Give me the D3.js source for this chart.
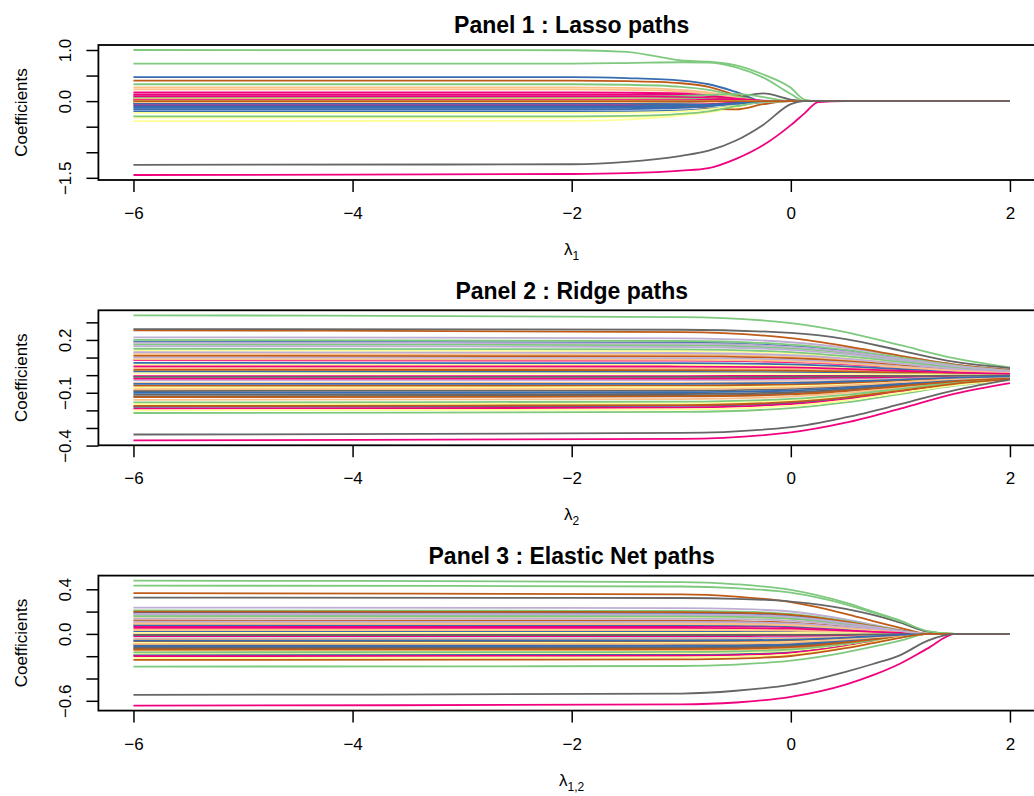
<!DOCTYPE html>
<html>
<head>
<meta charset="utf-8">
<script src="https://cdn.jsdelivr.net/npm/d3@7"></script>
<style>
  body { margin: 0; background: #fff; }
  text { font-family: "Liberation Sans", Arial, Helvetica, sans-serif; fill: #000; }
</style>
</head>
<body>
<svg id="chart" width="1034" height="796"></svg>
<script>
// Accent palette, recycled over the coefficient columns (like matplot does)
const pathColors = ["#7FC97F", "#BEAED4", "#FDC086", "#FFFF99", "#386CB0", "#F0027F", "#BF5B17", "#666666"];

const xTicks = [-6, -4, -2, 0, 2];
const xTickLabels = ["\u22126", "\u22124", "\u22122", "0", "2"];

// ---- Panel 1 : lasso, coefficient per log(lambda) knot
const lassoLambda = [-6, -2, -1.5, -1, -0.75, -0.5, -0.25, 0, 0.125, 0.25, 0.5, 2];
const lassoPaths = [
    [1.0, 0.995, 0.965, 0.795, 0.77, 0.70, 0.52, 0.26, 0.03, 0, 0, 0],
    [0.05, 0.05, 0.045, 0.03, 0.01, 0, 0, 0, 0, 0, 0, 0],
    [0.23, 0.23, 0.22, 0.19, 0.15, 0.08, 0, 0, 0, 0, 0, 0],
    [-0.39, -0.385, -0.36, -0.28, -0.2, -0.04, 0, 0, 0, 0, 0, 0],
    [0.47, 0.47, 0.45, 0.40, 0.33, 0.18, 0, 0, 0, 0, 0, 0],
    [0.17, 0.17, 0.165, 0.15, 0.11, 0.04, 0, 0, 0, 0, 0, 0],
    [0.40, 0.40, 0.39, 0.35, 0.28, 0.12, 0, 0, 0, 0, 0, 0],
    [0, 0, 0, 0, 0.02, 0.07, 0.15, 0.03, 0, 0, 0, 0],
    [0.735, 0.735, 0.745, 0.76, 0.755, 0.66, 0.46, 0.14, 0, 0, 0, 0],
    [0.02, 0.02, 0.02, 0.01, 0, 0, 0, 0, 0, 0, 0, 0],
    [-0.06, -0.06, -0.055, -0.04, -0.02, 0, 0, 0, 0, 0, 0, 0],
    [-0.32, -0.32, -0.31, -0.27, -0.22, -0.12, -0.02, 0, 0, 0, 0, 0],
    [-0.13, -0.13, -0.125, -0.11, -0.08, -0.03, 0, 0, 0, 0, 0, 0],
    [-0.08, -0.08, -0.08, -0.07, -0.06, -0.03, 0, 0, 0, 0, 0, 0],
    [-0.03, -0.03, -0.04, -0.09, -0.14, -0.16, -0.06, 0, 0, 0, 0, 0],
    [0, 0, 0, 0, 0, 0, 0, 0, 0, 0, 0, 0],
    [0.33, 0.33, 0.32, 0.28, 0.22, 0.1, 0, 0, 0, 0, 0, 0],
    [0.12, 0.12, 0.115, 0.09, 0.05, 0, 0, 0, 0, 0, 0, 0],
    [0.27, 0.27, 0.26, 0.22, 0.17, 0.07, 0, 0, 0, 0, 0, 0],
    [0.03, 0.03, 0.025, 0.01, 0, 0, 0, 0, 0, 0, 0, 0],
    [-0.2, -0.2, -0.2, -0.18, -0.15, -0.09, -0.02, 0, 0, 0, 0, 0],
    [0.13, 0.13, 0.13, 0.12, 0.1, 0.05, 0, 0, 0, 0, 0, 0],
    [0.02, 0.02, 0.03, 0.05, 0.06, 0.03, 0, 0, 0, 0, 0, 0],
    [-0.03, -0.03, -0.03, -0.02, 0, 0, 0, 0, 0, 0, 0, 0],
    [0.08, 0.08, 0.085, 0.1, 0.12, 0.14, 0.08, 0, 0, 0, 0, 0],
    [0, 0, 0, 0, 0, 0, 0, 0, 0, 0, 0, 0],
    [0.06, 0.06, 0.06, 0.05, 0.03, 0, 0, 0, 0, 0, 0, 0],
    [0, 0, 0, 0, 0, 0, 0, 0, 0, 0, 0, 0],
    [-0.1, -0.1, -0.1, -0.09, -0.07, -0.04, 0, 0, 0, 0, 0, 0],
    [0.09, 0.09, 0.09, 0.08, 0.06, 0.02, 0, 0, 0, 0, 0, 0],
    [0.03, 0.03, 0.03, 0.02, 0, 0, 0, 0, 0, 0, 0, 0],
    [-0.02, -0.02, -0.02, -0.01, 0, 0, 0, 0, 0, 0, 0, 0],
    [0.06, 0.06, 0.06, 0.05, 0.04, 0.02, 0, 0, 0, 0, 0, 0],
    [0, 0, 0, 0, 0, 0, 0, 0, 0, 0, 0, 0],
    [0.04, 0.04, 0.04, 0.03, 0.01, 0, 0, 0, 0, 0, 0, 0],
    [-0.23, -0.23, -0.225, -0.2, -0.16, -0.09, -0.01, 0, 0, 0, 0, 0],
    [-0.05, -0.05, -0.05, -0.06, -0.07, -0.05, 0, 0, 0, 0, 0, 0],
    [0.02, 0.02, 0.02, 0.02, 0.03, 0.04, 0.01, 0, 0, 0, 0, 0],
    [0, 0, 0, 0, 0, 0, 0, 0, 0, 0, 0, 0],
    [0, 0, 0, 0, 0, 0, 0, 0, 0, 0, 0, 0],
    [-0.30, -0.30, -0.29, -0.25, -0.2, -0.1, -0.01, 0, 0, 0, 0, 0],
    [0, 0, 0, 0, 0, 0, 0, 0, 0, 0, 0, 0],
    [-0.02, -0.02, -0.02, -0.01, 0, 0, 0, 0, 0, 0, 0, 0],
    [0, 0, 0, 0, 0, 0, 0, 0, 0, 0, 0, 0],
    [-0.16, -0.16, -0.155, -0.13, -0.1, -0.05, 0, 0, 0, 0, 0, 0],
    [-1.445, -1.425, -1.41, -1.36, -1.31, -1.13, -0.86, -0.47, -0.24, -0.02, 0, 0],
    [0, 0, 0, 0, 0, 0, 0, 0, 0, 0, 0, 0],
    [-1.245, -1.235, -1.19, -1.07, -0.97, -0.77, -0.46, -0.06, 0, 0, 0, 0]
];
const lassoYTicks = [-1.5, -1.0, -0.5, 0, 0.5, 1.0];
const lassoYLabels = ["\u22121.5", "", "", "0.0", "", "1.0"];

// ---- Panel 2 : ridge
const ridgeLambda = [-6, -1, 0, 0.5, 1, 1.5, 2];
const ridgePaths = [
    [0.34, 0.33, 0.296, 0.245, 0.17, 0.095, 0.044],
    [0.215, 0.209, 0.187, 0.155, 0.108, 0.06, 0.028],
    [0.12, 0.116, 0.104, 0.086, 0.06, 0.034, 0.016],
    [0.06, 0.058, 0.052, 0.043, 0.03, 0.017, 0.008],
    [0.19, 0.184, 0.165, 0.137, 0.095, 0.053, 0.025],
    [0.085, 0.082, 0.074, 0.061, 0.043, 0.024, 0.011],
    [0.255, 0.245, 0.21, 0.165, 0.11, 0.06, 0.03],
    [0.262, 0.258, 0.24, 0.205, 0.14, 0.075, 0.04],
    [0.175, 0.17, 0.152, 0.126, 0.088, 0.049, 0.023],
    [-0.03, -0.029, -0.026, -0.022, -0.015, -0.008, -0.004],
    [-0.14, -0.136, -0.122, -0.101, -0.07, -0.039, -0.018],
    [0.14, 0.136, 0.122, 0.101, 0.07, 0.039, 0.018],
    [0.02, 0.019, 0.017, 0.014, 0.01, 0.006, 0.003],
    [-0.005, -0.005, -0.004, -0.004, -0.003, -0.001, -0.001],
    [0.11, 0.107, 0.096, 0.079, 0.055, 0.031, 0.014],
    [-0.11, -0.107, -0.096, -0.079, -0.055, -0.031, -0.014],
    [0.2, 0.194, 0.174, 0.144, 0.1, 0.056, 0.026],
    [0.165, 0.16, 0.144, 0.119, 0.083, 0.046, 0.021],
    [0.04, 0.039, 0.035, 0.029, 0.02, 0.011, 0.005],
    [-0.07, -0.068, -0.061, -0.05, -0.035, -0.02, -0.009],
    [-0.18, -0.175, -0.157, -0.13, -0.09, -0.05, -0.023],
    [-0.02, -0.019, -0.017, -0.014, -0.01, -0.006, -0.003],
    [-0.06, -0.058, -0.052, -0.043, -0.03, -0.017, -0.008],
    [-0.09, -0.087, -0.078, -0.065, -0.045, -0.025, -0.012],
    [0.15, 0.146, 0.131, 0.108, 0.075, 0.042, 0.02],
    [0.1, 0.097, 0.087, 0.072, 0.05, 0.028, 0.013],
    [-0.045, -0.044, -0.039, -0.032, -0.023, -0.013, -0.006],
    [-0.165, -0.16, -0.144, -0.119, -0.083, -0.046, -0.021],
    [0.07, 0.068, 0.061, 0.05, 0.035, 0.02, 0.009],
    [-0.19, -0.184, -0.165, -0.137, -0.095, -0.053, -0.025],
    [0.03, 0.029, 0.026, 0.022, 0.015, 0.008, 0.004],
    [-0.12, -0.116, -0.104, -0.086, -0.06, -0.034, -0.016],
    [-0.155, -0.15, -0.135, -0.112, -0.078, -0.043, -0.02],
    [0.13, 0.126, 0.113, 0.094, 0.065, 0.036, 0.017],
    [0.09, 0.087, 0.078, 0.065, 0.045, 0.025, 0.012],
    [0.01, 0.01, 0.009, 0.007, 0.005, 0.003, 0.001],
    [-0.1, -0.097, -0.087, -0.072, -0.05, -0.028, -0.013],
    [0.05, 0.049, 0.044, 0.036, 0.025, 0.014, 0.007],
    [-0.125, -0.121, -0.109, -0.09, -0.063, -0.035, -0.016],
    [-0.01, -0.01, -0.009, -0.007, -0.005, -0.003, -0.001],
    [-0.215, -0.209, -0.187, -0.155, -0.108, -0.06, -0.028],
    [0.185, 0.179, 0.161, 0.133, 0.093, 0.052, 0.024],
    [-0.08, -0.078, -0.07, -0.058, -0.04, -0.022, -0.01],
    [-0.2, -0.194, -0.174, -0.144, -0.1, -0.056, -0.026],
    [-0.05, -0.049, -0.044, -0.036, -0.025, -0.014, -0.007],
    [-0.37, -0.362, -0.325, -0.27, -0.19, -0.105, -0.045],
    [-0.175, -0.17, -0.152, -0.126, -0.088, -0.049, -0.023],
    [-0.337, -0.328, -0.295, -0.24, -0.165, -0.085, -0.025]
];
const ridgeYTicks = [-0.4, -0.3, -0.2, -0.1, 0, 0.1, 0.2, 0.3];
const ridgeYLabels = ["\u22120.4", "", "", "\u22120.1", "", "", "0.2", ""];

// ---- Panel 3 : elastic net
const enetLambda = [-6, -1, -0.5, 0, 0.5, 0.75, 1, 1.25, 1.5, 2];
const enetPaths = [
    [0.478, 0.465, 0.445, 0.395, 0.28, 0.2, 0.12, 0.02, 0, 0],
    [0.236, 0.231, 0.224, 0.201, 0.13, 0.083, 0.035, 0, 0, 0],
    [0.1, 0.098, 0.095, 0.085, 0.055, 0.035, 0.015, 0, 0, 0],
    [0.05, 0.049, 0.048, 0.043, 0.028, 0.018, 0.008, 0, 0, 0],
    [0.19, 0.186, 0.181, 0.162, 0.105, 0.067, 0.029, 0, 0, 0],
    [0.07, 0.069, 0.067, 0.06, 0.039, 0.025, 0.011, 0, 0, 0],
    [0.365, 0.355, 0.335, 0.285, 0.18, 0.115, 0.055, 0, 0, 0],
    [0.326, 0.322, 0.315, 0.29, 0.225, 0.17, 0.1, 0.02, 0, 0],
    [0.433, 0.425, 0.41, 0.37, 0.265, 0.19, 0.115, 0.025, 0, 0],
    [-0.04, -0.039, -0.038, -0.034, -0.022, -0.014, -0.006, 0, 0, 0],
    [-0.15, -0.147, -0.143, -0.128, -0.083, -0.053, -0.023, 0, 0, 0],
    [0.15, 0.147, 0.143, 0.128, 0.083, 0.053, 0.023, 0, 0, 0],
    [0.02, 0.02, 0.019, 0.017, 0.011, 0.007, 0.003, 0, 0, 0],
    [-0.005, -0.005, -0.005, -0.004, -0.003, -0.002, -0.001, 0, 0, 0],
    [0.12, 0.118, 0.114, 0.102, 0.066, 0.042, 0.018, 0, 0, 0],
    [-0.12, -0.118, -0.114, -0.102, -0.066, -0.042, -0.018, 0, 0, 0],
    [0.21, 0.206, 0.2, 0.179, 0.116, 0.074, 0.032, 0, 0, 0],
    [0.17, 0.167, 0.162, 0.145, 0.094, 0.06, 0.026, 0, 0, 0],
    [0.035, 0.034, 0.033, 0.03, 0.019, 0.012, 0.005, 0, 0, 0],
    [-0.08, -0.078, -0.076, -0.068, -0.044, -0.028, -0.012, 0, 0, 0],
    [-0.19, -0.186, -0.181, -0.162, -0.105, -0.067, -0.029, 0, 0, 0],
    [-0.02, -0.02, -0.019, -0.017, -0.011, -0.007, -0.003, 0, 0, 0],
    [-0.065, -0.064, -0.062, -0.055, -0.036, -0.023, -0.01, 0, 0, 0],
    [-0.1, -0.098, -0.095, -0.085, -0.055, -0.035, -0.015, 0, 0, 0],
    [0.16, 0.157, 0.152, 0.136, 0.088, 0.056, 0.024, 0, 0, 0],
    [0.11, 0.108, 0.105, 0.094, 0.061, 0.039, 0.017, 0, 0, 0],
    [-0.05, -0.049, -0.048, -0.043, -0.028, -0.018, -0.008, 0, 0, 0],
    [-0.175, -0.172, -0.166, -0.149, -0.096, -0.061, -0.026, 0, 0, 0],
    [0.08, 0.078, 0.076, 0.068, 0.044, 0.028, 0.012, 0, 0, 0],
    [-0.2, -0.196, -0.19, -0.17, -0.11, -0.07, -0.03, 0, 0, 0],
    [0.2, 0.196, 0.19, 0.17, 0.11, 0.07, 0.03, 0, 0, 0],
    [-0.13, -0.127, -0.124, -0.111, -0.072, -0.046, -0.02, 0, 0, 0],
    [-0.165, -0.162, -0.157, -0.14, -0.091, -0.058, -0.025, 0, 0, 0],
    [0.14, 0.137, 0.133, 0.119, 0.077, 0.049, 0.021, 0, 0, 0],
    [0.09, 0.088, 0.086, 0.077, 0.05, 0.032, 0.014, 0, 0, 0],
    [0.01, 0.01, 0.01, 0.009, 0.006, 0.004, 0.002, 0, 0, 0],
    [-0.11, -0.108, -0.105, -0.094, -0.061, -0.039, -0.017, 0, 0, 0],
    [0.055, 0.054, 0.052, 0.047, 0.03, 0.019, 0.008, 0, 0, 0],
    [-0.14, -0.137, -0.133, -0.119, -0.077, -0.049, -0.021, 0, 0, 0],
    [-0.01, -0.01, -0.01, -0.009, -0.006, -0.004, -0.002, 0, 0, 0],
    [-0.293, -0.288, -0.275, -0.24, -0.165, -0.115, -0.06, 0, 0, 0],
    [0.18, 0.176, 0.171, 0.153, 0.099, 0.063, 0.027, 0, 0, 0],
    [-0.09, -0.088, -0.086, -0.077, -0.05, -0.032, -0.014, 0, 0, 0],
    [-0.215, -0.211, -0.204, -0.183, -0.118, -0.075, -0.032, 0, 0, 0],
    [-0.06, -0.059, -0.057, -0.051, -0.033, -0.021, -0.009, 0, 0, 0],
    [-0.643, -0.632, -0.615, -0.565, -0.455, -0.37, -0.265, -0.13, 0, 0],
    [-0.233, -0.228, -0.221, -0.198, -0.128, -0.082, -0.035, 0, 0, 0],
    [-0.547, -0.535, -0.51, -0.455, -0.34, -0.27, -0.19, -0.06, 0, 0]
];
const enetYTicks = [-0.6, -0.4, -0.2, 0, 0.2, 0.4];
const enetYLabels = ["\u22120.6", "", "", "0.0", "", "0.4"];

const panels = [
    { title: "Panel 1 : Lasso paths", sub: "1", lambda: lassoLambda, paths: lassoPaths, ticks: lassoYTicks, labels: lassoYLabels },
    { title: "Panel 2 : Ridge paths", sub: "2", lambda: ridgeLambda, paths: ridgePaths, ticks: ridgeYTicks, labels: ridgeYLabels },
    { title: "Panel 3 : Elastic Net paths", sub: "1,2", lambda: enetLambda, paths: enetPaths, ticks: enetYTicks, labels: enetYLabels }
];

let svg = d3.select("#chart");

let plotLeft = 98.4;
let plotRight = 1045;   // box runs past the right edge of the picture
let plotHeight = 135;
let panelStep = 265.3;
let firstTop = 45;

// R-style 4% padding around the data range
function padded(ext) {
    let d = (ext[1] - ext[0]) * 0.04;
    return [ext[0] - d, ext[1] + d];
}

panels.forEach((p, k) => drawPanel(p, firstTop + k * panelStep));

function drawPanel(p, top) {
    let bottom = top + plotHeight;

    let x = d3.scaleLinear()
        .domain(padded(d3.extent(p.lambda)))
        .range([plotLeft, plotRight]);

    let allVals = p.paths.flat();
    let y = d3.scaleLinear()
        .domain(padded(d3.extent(allVals)))
        .range([bottom, top]);

    let g = svg.append("g");

    let line = d3.line()
        .x((d, i) => x(p.lambda[i]))
        .y(d => y(d))
        .curve(d3.curveMonotoneX);

    g.selectAll(".path")
        .data(p.paths)
        .enter()
        .append("path")
        .attr("d", line)
        .attr("fill", "none")
        .attr("stroke", (d, i) => pathColors[i % pathColors.length])
        .attr("stroke-width", 1.8);

    // frame
    g.append("rect")
        .attr("x", plotLeft)
        .attr("y", top)
        .attr("width", plotRight - plotLeft)
        .attr("height", plotHeight)
        .attr("fill", "none")
        .attr("stroke", "#000")
        .attr("stroke-width", 1.8);

    // x axis
    let xAxis = g.append("g")
        .attr("transform", "translate(0," + bottom + ")")
        .call(d3.axisBottom(x)
            .tickValues(xTicks)
            .tickSize(12)
            .tickSizeOuter(0)
            .tickFormat((d, i) => xTickLabels[i]));
    xAxis.select(".domain").remove();
    xAxis.selectAll(".tick line").attr("stroke", "#000").attr("stroke-width", 1.5);
    xAxis.selectAll(".tick text")
        .attr("y", 39)
        .attr("dy", null)
        .style("font-size", "17px")
        .style("font-family", "'Liberation Sans', Arial, sans-serif");

    // y axis, labels parallel to the axis
    let yAxis = g.append("g")
        .attr("transform", "translate(" + plotLeft + ",0)")
        .call(d3.axisLeft(y)
            .tickValues(p.ticks)
            .tickSize(12)
            .tickSizeOuter(0)
            .tickFormat((d, i) => p.labels[i]));
    yAxis.select(".domain").remove();
    yAxis.selectAll(".tick line").attr("stroke", "#000").attr("stroke-width", 1.5);
    yAxis.selectAll(".tick text")
        .attr("x", null)
        .attr("dy", null)
        .attr("transform", "translate(-27,0) rotate(-90)")
        .attr("text-anchor", "middle")
        .style("font-size", "17px")
        .style("font-family", "'Liberation Sans', Arial, sans-serif");

    let cx = (plotLeft + plotRight) / 2;

    // title
    g.append("text")
        .attr("x", cx)
        .attr("y", top - 11.7)
        .attr("text-anchor", "middle")
        .style("font-size", "23px")
        .style("font-weight", "bold")
        .text(p.title);

    // y label
    g.append("text")
        .attr("transform", "translate(27," + (top + plotHeight / 2) + ") rotate(-90)")
        .attr("text-anchor", "middle")
        .style("font-size", "17px")
        .text("Coefficients");

    // x label: lambda with subscript
    let xl = g.append("text")
        .attr("x", cx)
        .attr("y", bottom + 75)
        .attr("text-anchor", "middle")
        .style("font-size", "17px");
    xl.append("tspan").text("\u03bb");
    xl.append("tspan")
        .attr("dy", 5)
        .style("font-size", "12px")
        .text(p.sub);
}
</script>
</body>
</html>
